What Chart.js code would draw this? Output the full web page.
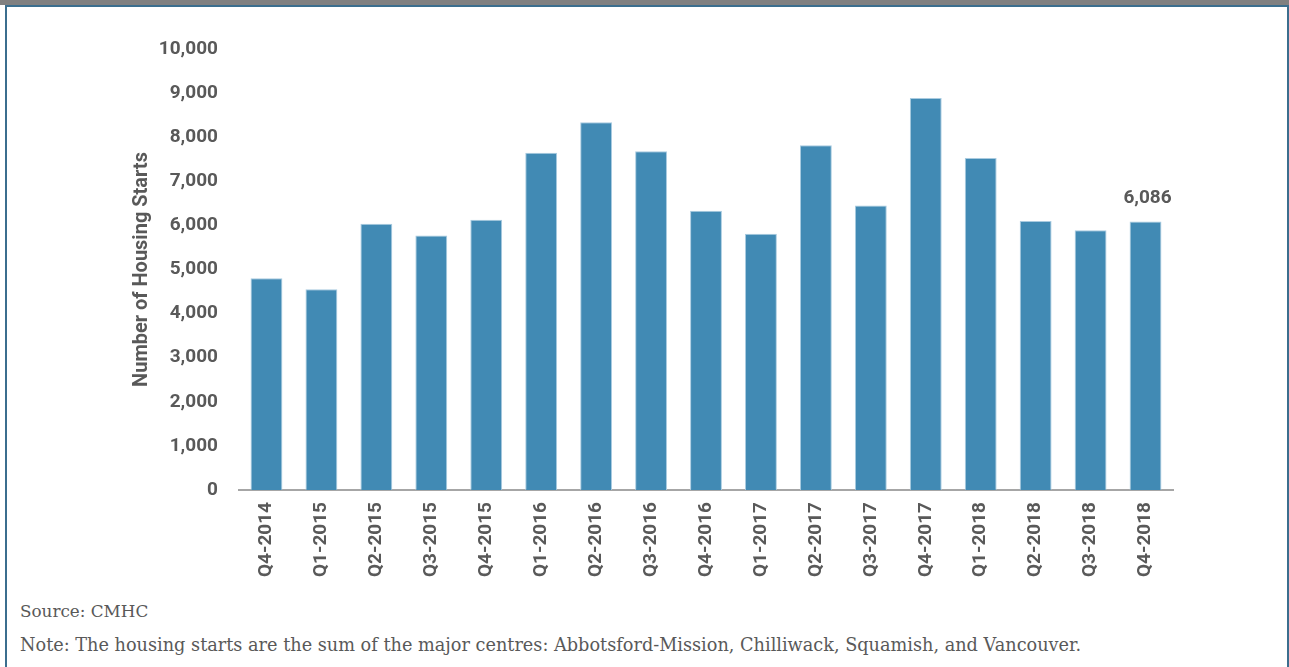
<!DOCTYPE html>
<html>
<head>
<meta charset="utf-8">
<script src="https://cdn.jsdelivr.net/npm/chart.js@4"></script>
<style>
  html, body { margin: 0; padding: 0; background: #fff; }
  body { width: 1289px; height: 667px; position: relative; overflow: hidden; }
  #band { position: absolute; left: 0; top: 0; width: 1289px; height: 5px; background: #808080; }
  #frame { position: absolute; left: 5px; top: 5px; width: 1280px; height: 680px;
           border: 2px solid #3b6e8e; border-bottom: none; }
  #chart-wrap { position: absolute; left: 0; top: 0; width: 1289px; height: 600px; }
  .note { position: absolute; left: 20px; font-family: "DejaVu Serif", serif; font-size: 17.7px;
          line-height: 20px; color: #595959; white-space: nowrap; }
</style>
</head>
<body>
<div id="band"></div>
<div id="frame"></div>
<div id="chart-wrap"><canvas id="starts"></canvas></div>
<div class="note" style="top:601px; font-size:16.8px">Source: CMHC</div>
<div class="note" style="top:635px">Note: The housing starts are the sum of the major centres: Abbotsford-Mission, Chilliwack, Squamish, and Vancouver.</div>
<script>
// Quarterly housing starts
const quarters = ["Q4-2014", "Q1-2015", "Q2-2015", "Q3-2015", "Q4-2015", "Q1-2016", "Q2-2016", "Q3-2016",
  "Q4-2016", "Q1-2017", "Q2-2017", "Q3-2017", "Q4-2017", "Q1-2018", "Q2-2018", "Q3-2018", "Q4-2018"];
const housingStarts = [4800, 4550, 6040, 5770, 6130, 7650, 8340, 7680,
  6330, 5810, 7815, 6450, 8890, 7530, 6100, 5890, 6086];
const labelledIndex = 16;

const textGray = "#595959";
const tickFont = { family: "Roboto", size: 19, weight: "bold" };

// Draws the single value label above the last bar
const lastValueLabel = {
  id: "lastValueLabel",
  afterDatasetsDraw(chart) {
    const bar = chart.getDatasetMeta(0).data[labelledIndex];
    const ctx = chart.ctx;
    ctx.save();
    ctx.font = "bold 19px Roboto";
    ctx.fillStyle = textGray;
    ctx.textAlign = "center";
    ctx.textBaseline = "bottom";
    ctx.fillText(housingStarts[labelledIndex].toLocaleString("en-US"), bar.x + 2, bar.y - 14);
    ctx.restore();
  }
};

new Chart(document.getElementById("starts").getContext("2d"), {
  type: "bar",
  data: {
    labels: quarters,
    datasets: [{
      data: housingStarts,
      backgroundColor: "#418ab4",
      borderColor: "#a9cbe0",
      borderWidth: { top: 1, left: 1, right: 1, bottom: 0 },
      categoryPercentage: 1,
      barPercentage: 0.58
    }]
  },
  options: {
    responsive: true,
    maintainAspectRatio: false,
    animation: false,
    layout: { padding: { top: 49, right: 116, bottom: 10, left: 122 } },
    plugins: { legend: { display: false }, tooltip: { enabled: false } },
    scales: {
      x: {
        grid: { display: false, drawTicks: false },
        border: { color: "#a6a6a6", width: 2 },
        ticks: { color: textGray, font: tickFont, minRotation: 90, maxRotation: 90, padding: 12 },
        afterFit(scale) { scale.height = 100; }
      },
      y: {
        min: 0,
        max: 10000,
        grid: { display: false, drawTicks: false },
        border: { display: false },
        ticks: {
          stepSize: 1000,
          color: textGray,
          font: tickFont,
          padding: 21,
          callback: v => v.toLocaleString("en-US")
        },
        title: {
          display: true,
          text: "Number of Housing Starts",
          color: textGray,
          font: { family: "Roboto", size: 20, weight: "bold" },
          padding: { top: 8, bottom: 0 }
        },
        afterFit(scale) { scale.width = 117; }
      }
    }
  },
  plugins: [lastValueLabel]
});
</script>
</body>
</html>
